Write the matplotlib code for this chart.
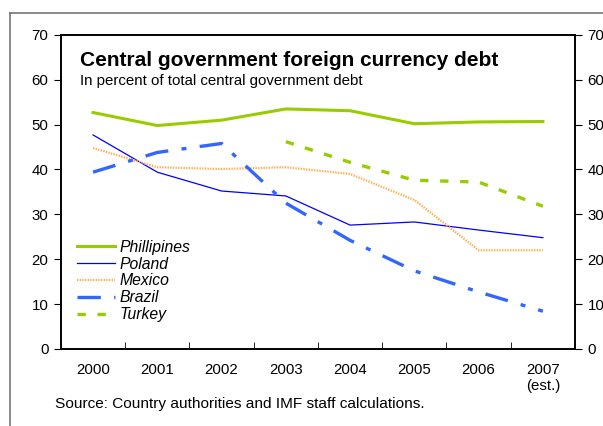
import matplotlib.pyplot as plt
import numpy as np

plt.rcParams['font.family'] = ['Liberation Sans', 'DejaVu Sans']

years = ["2000", "2001", "2002", "2003", "2004", "2005", "2006", "2007\n(est.)"]
phillipines = [52.7, 49.8, 51.0, 53.5, 53.1, 50.2, 50.6, 50.7]
poland = [47.7, 39.4, 35.2, 34.1, 27.6, 28.3, 26.5, 24.8]
mexico = [44.8, 40.5, 40.1, 40.5, 39.0, 33.2, 22.0, 22.0]
brazil = [39.4, 43.8, 45.8, 32.5, 24.2, 17.4, 12.7, 8.4]
turkey = [None, None, None, 46.2, 41.6, 37.6, 37.2, 31.8]

x = np.arange(len(years))
turkey_arr = np.array([np.nan if v is None else v for v in turkey])

fig = plt.figure(figsize=(6.03, 4.26), dpi=100)
ax = fig.add_axes([0.101, 0.181, 0.8526, 0.737])

ax.plot(x, phillipines, color="#99cc00", lw=2.2, label="Phillipines")
ax.plot(x, poland, color="#0000ff", lw=0.9, label="Poland")
ax.plot(x, mexico, color="#ffaa44", lw=1.6, ls=(0, (0.6, 0.6)), label="Mexico")
ax.plot(x, brazil, color="#3366ff", lw=2.4, ls=(0, (7, 4, 1.5, 4)), label="Brazil")
ax.plot(x, turkey_arr, color="#99cc00", lw=2.4, ls=(0, (2.5, 3.5)), label="Turkey")

ax.set_xlim(-0.5, 7.5)
ax.set_ylim(0, 70)
ax.set_yticks(range(0, 71, 10))
ax.set_xticks(x)
ax.set_xticklabels(years, fontsize=10.8, multialignment="center")
ax.set_xticks(np.arange(0.5, 7, 1), minor=True)
ax.tick_params(axis="x", which="major", length=0, pad=10)
ax.tick_params(axis="x", which="minor", direction="in", length=5)
ax.tick_params(axis="y", direction="out", length=5, labelsize=10.8, pad=4)

ax2 = ax.twinx()
ax2.set_ylim(0, 70)
ax2.set_yticks(range(0, 71, 10))
ax2.tick_params(axis="y", direction="out", length=5, labelsize=10.8, pad=4)

for a in (ax, ax2):
    for s in a.spines.values():
        s.set_linewidth(1.2)

ax.text(0.037, 0.948, "Central government foreign currency debt", transform=ax.transAxes,
        fontsize=15, fontweight="bold", va="top")
ax.text(0.037, 0.875, "In percent of total central government debt", transform=ax.transAxes,
        fontsize=10.8, va="top")

leg = ax.legend(loc="lower left", bbox_to_anchor=(0.02, 0.065), frameon=False,
                prop={"style": "italic", "size": 11.3}, handlelength=2.4,
                labelspacing=0.12, handletextpad=0.3, borderaxespad=0)

fig.text(55 / 603, 1 - 404 / 426, "Source: Country authorities and IMF staff calculations.",
         fontsize=11.1, va="center")

# outer frame
fig.add_artist(plt.Line2D([10 / 603, 10 / 603], [0, 1 - 13 / 426], transform=fig.transFigure,
                          color="#777777", lw=1.2))
fig.add_artist(plt.Line2D([10 / 603, 1], [1 - 13 / 426, 1 - 13 / 426], transform=fig.transFigure,
                          color="#777777", lw=1.2))

fig.savefig("out.png", dpi=100)
